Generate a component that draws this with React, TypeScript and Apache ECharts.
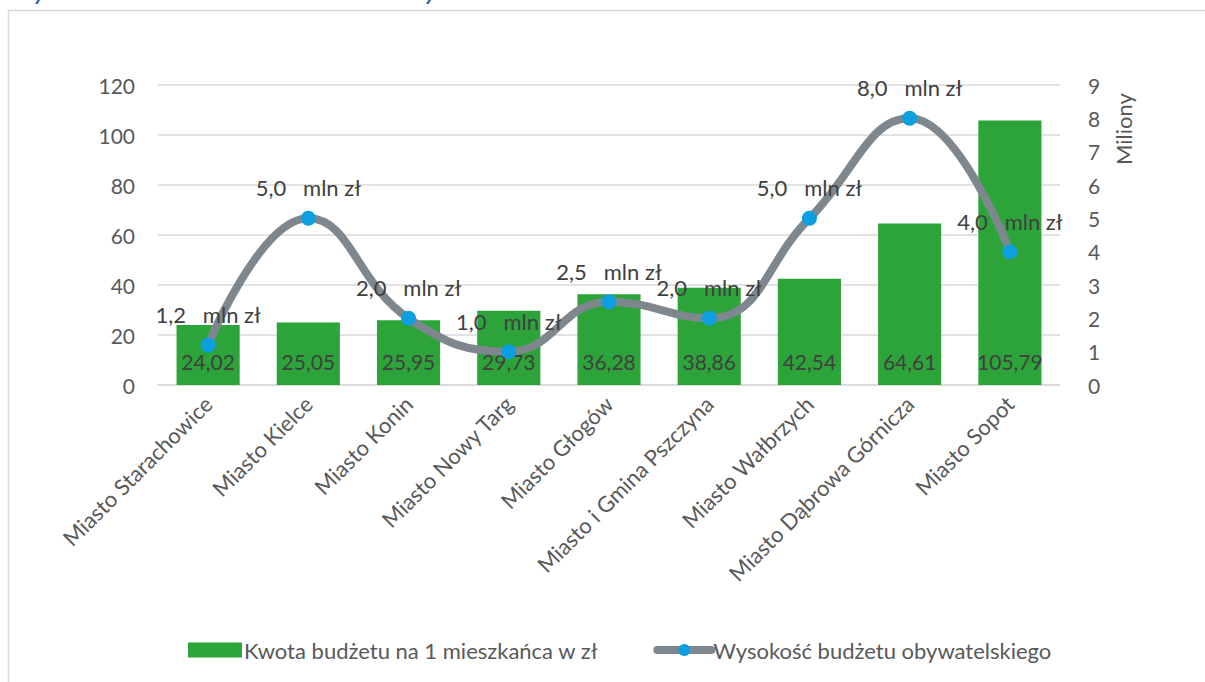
import React, { useEffect, useRef } from "react";
import * as echarts from "echarts";

const categories = [
  "Miasto Starachowice",
  "Miasto Kielce",
  "Miasto Konin",
  "Miasto Nowy Targ",
  "Miasto Głogów",
  "Miasto i Gmina Pszczyna",
  "Miasto Wałbrzych",
  "Miasto Dąbrowa Górnicza",
  "Miasto Sopot",
];
const perCapita = [24.02, 25.05, 25.95, 29.73, 36.28, 38.86, 42.54, 64.61, 105.79];
const budgetMln = [1.2, 5.0, 2.0, 1.0, 2.5, 2.0, 5.0, 8.0, 4.0];
const barName = "Kwota budżetu na 1 mieszkańca w zł";
const lineName = "Wysokość budżetu obywatelskiego";
const rightAxisName = "Miliony";

const FONT = "Lato";
const GRAY_LINE = "#7f878e";
const BLUE = "#0e9fe0";

export default function App() {
  const ref = useRef<HTMLDivElement>(null);
  useEffect(() => {
    if (!ref.current) return;
    const chart = echarts.init(ref.current, null, { renderer: "svg" });
    chart.setOption({
      animation: false,
      backgroundColor: "#ffffff",
      textStyle: { fontFamily: FONT },
      grid: { left: 158, right: 145, top: 85, bottom: 297, containLabel: false },
      legend: {
        bottom: 16,
        left: 183,
        itemWidth: 54,
        itemHeight: 15,
        itemGap: 55,
        textStyle: { fontFamily: FONT, fontSize: 22, color: "#595959", padding: [0, 0, 0, -3] },
        data: [
          { name: barName, icon: "rect" },
          {
            name: lineName,
            lineStyle: { color: GRAY_LINE, width: 8, cap: "round" },
            itemStyle: { color: BLUE },
          },
        ],
      },
      xAxis: {
        type: "category",
        data: categories,
        axisLine: { lineStyle: { color: "#d9d9d9", width: 1.5 } },
        axisTick: { show: false },
        axisLabel: {
          rotate: 45,
          interval: 0,
          margin: 15,
          color: "#595959",
          fontSize: 22,
          fontFamily: FONT,
        },
      },
      yAxis: [
        {
          type: "value",
          min: 0,
          max: 120,
          interval: 20,
          axisLine: { show: false },
          axisTick: { show: false },
          splitLine: { lineStyle: { color: "#d9d9d9", width: 1.5 } },
          axisLabel: { color: "#595959", fontSize: 21, fontFamily: FONT, margin: 23 },
        },
        {
          type: "value",
          min: 0,
          max: 9,
          interval: 1,
          position: "right",
          axisLine: { show: false },
          axisTick: { show: false },
          splitLine: { show: false },
          axisLabel: { color: "#595959", fontSize: 21, fontFamily: FONT, margin: 28 },
        },
      ],
      series: [
        {
          name: barName,
          type: "bar",
          data: perCapita,
          barWidth: "63%",
          itemStyle: { color: "#2ca43a" },
          label: {
            show: true,
            position: "insideBottom",
            distance: 13,
            color: "#404040",
            fontSize: 21,
            fontFamily: FONT,
            formatter: (p: any) => Number(p.value).toFixed(2).replace(".", ","),
          },
          z: 2,
        },
        {
          name: lineName,
          type: "line",
          yAxisIndex: 1,
          data: budgetMln,
          smooth: 0.45,
          symbol: "circle",
          symbolSize: 15,
          lineStyle: { color: GRAY_LINE, width: 8 },
          itemStyle: { color: BLUE, borderWidth: 0 },
          label: {
            show: true,
            position: "top",
            distance: 12,
            color: "#404040",
            fontSize: 22,
            fontFamily: FONT,
            formatter: (p: any) => Number(p.value).toFixed(1).replace(".", ",") + "   mln zł",
          },
          z: 3,
        },
      ],
      graphic: [
        {
          type: "rect",
          silent: true,
          shape: { x: 8.5, y: 10.5, width: 1210, height: 700 },
          style: { fill: "none", stroke: "#d9d9d9", lineWidth: 1.5 },
          z: -1,
        },
        {
          type: "polygon",
          silent: true,
          shape: { points: [[35, 4], [37.5, 4], [40, 0], [37.5, 0]] },
          style: { fill: "#1f5fa8" },
        },
        {
          type: "polygon",
          silent: true,
          shape: { points: [[426, 4], [428.5, 4], [431, 0], [428.5, 0]] },
          style: { fill: "#1f5fa8" },
        },
        {
          type: "text",
          silent: true,
          x: 1123,
          y: 129,
          rotation: Math.PI / 2,
          style: {
            text: rightAxisName,
            fontFamily: FONT,
            fontSize: 22,
            fill: "#595959",
            align: "center",
            verticalAlign: "middle",
          },
        },
      ],
    });
    return () => chart.dispose();
  }, []);
  return (
    <div
      ref={ref}
      style={{ position: "absolute", left: 0, top: 0, width: 1205, height: 682 }}
    />
  );
}
